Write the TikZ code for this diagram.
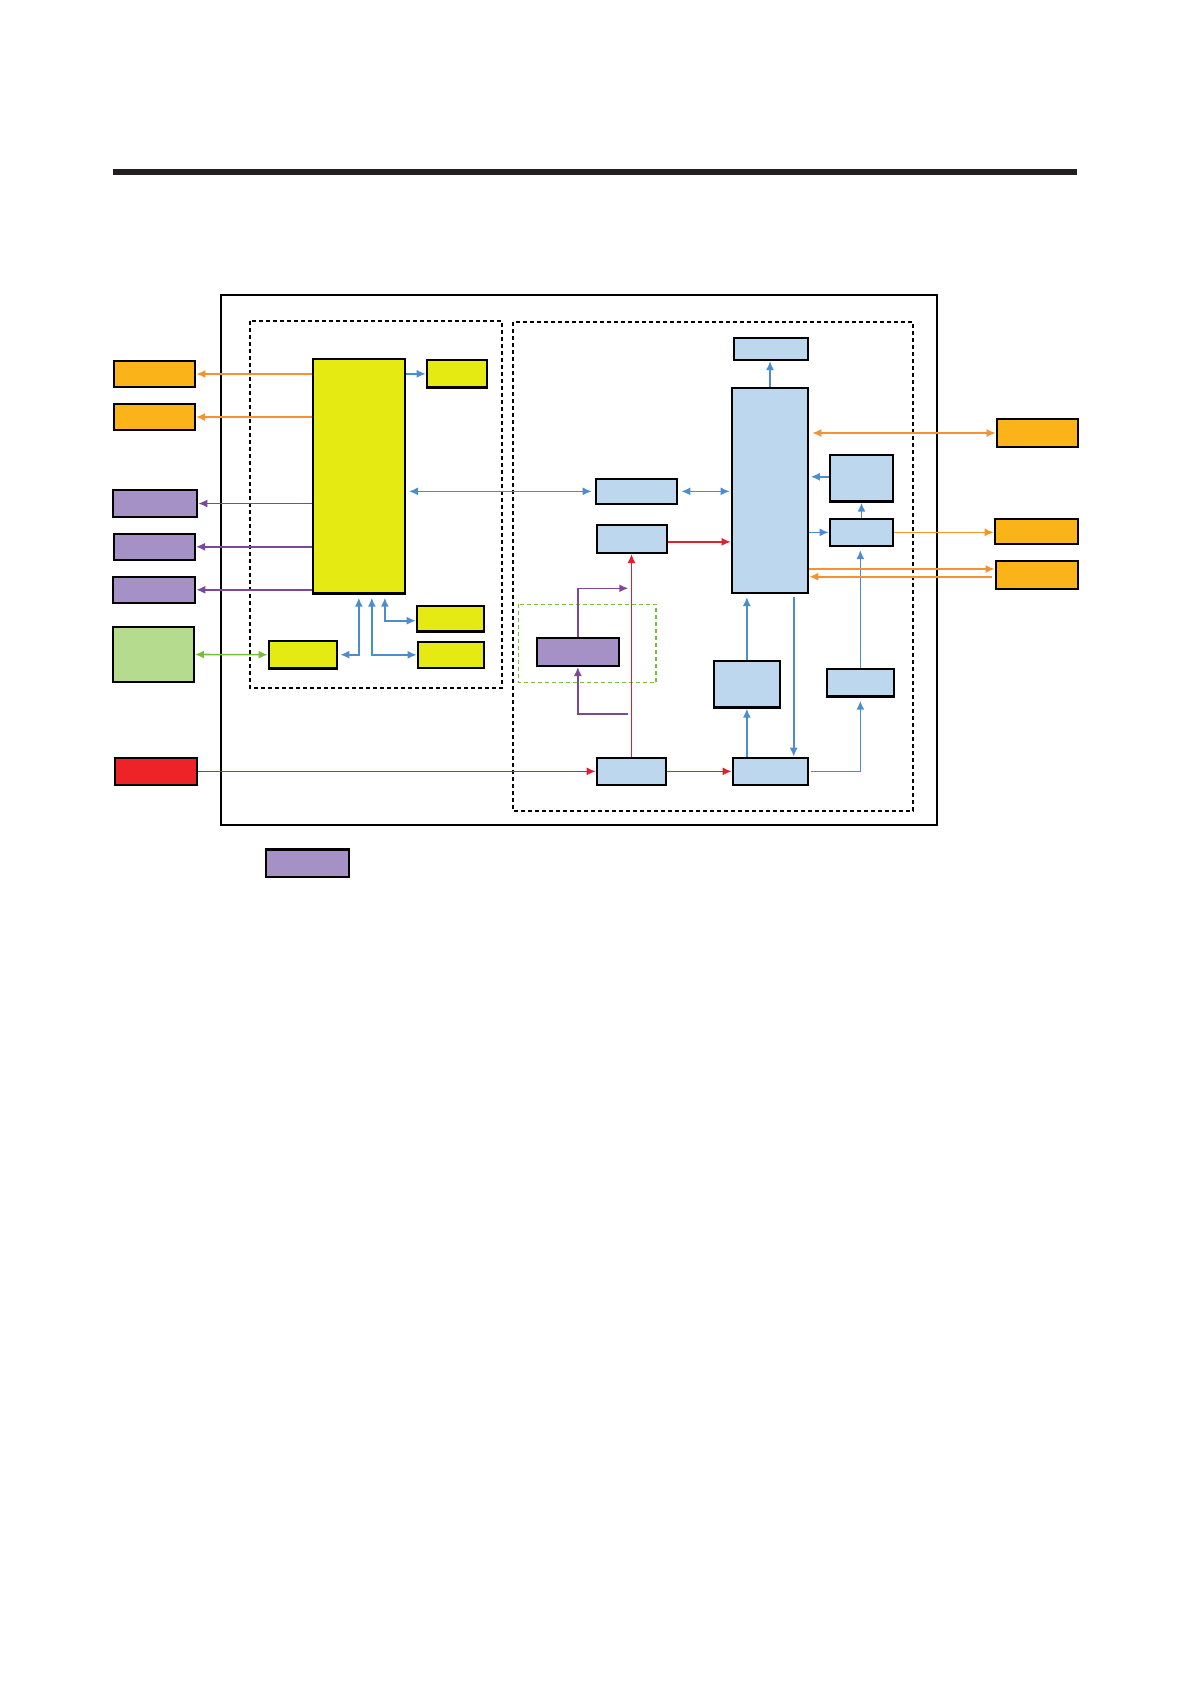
\documentclass[tikz,border=0pt]{standalone}
\usetikzlibrary{arrows.meta,calc}
\definecolor{orfill}{HTML}{FBB31A}
\definecolor{yefill}{HTML}{E5EA12}
\definecolor{blfill}{HTML}{BDD7EE}
\definecolor{pufill}{HTML}{A591C6}
\definecolor{grfill}{HTML}{B5DC8E}
\definecolor{rdfill}{HTML}{EE2328}
\definecolor{orline}{HTML}{F5922F}
\definecolor{blline}{HTML}{4A8ED0}
\definecolor{puline}{HTML}{7B489C}
\definecolor{rdline}{HTML}{E11F2D}
\definecolor{grline}{HTML}{78BE3C}
\definecolor{barcol}{HTML}{231F20}
\tikzset{
  box/.style={draw=black,line width=2.3pt,inner sep=0pt},
  sz/.style 2 args={minimum width=#1pt,minimum height=#2pt},
  orbox/.style={box,fill=orfill},
  yebox/.style={box,fill=yefill},
  blbox/.style={box,fill=blfill},
  pubox/.style={box,fill=pufill},
  grbox/.style={box,fill=grfill},
  rdbox/.style={box,fill=rdfill},
  oline/.style={orline,line width=1.6pt},
  bline/.style={blline,line width=1.6pt},
  pline/.style={puline,line width=1.6pt},
  rline/.style={rdline,line width=1.6pt},
  gline/.style={grline,line width=1.6pt},
  frame/.style={line width=2pt,dash pattern=on 4pt off 3pt}
}

\begin{document}
\begin{tikzpicture}[x=1pt,y=-1pt,>={Latex[length=9pt,width=8pt]}]
  \useasboundingbox (0,0) rectangle (1191,1684);
  % heading rule
  \draw[barcol,line width=6pt] (112.7,172) -- (1077,172);
  % frames
  \draw[line width=2pt] (221,295) rectangle (937,825);
  \draw[frame] (250,321) rectangle (502,688);
  \draw[frame] (513,322) rectangle (913.3,810.7);
  \draw[grline,line width=1.5pt,dash pattern=on 4pt off 3pt] (518.3,604.3) rectangle (656,682.7);

  % left blocks
  \node[orbox,sz={81.3}{25.7}] (orA) at (154.5,374) {};
  \node[orbox,sz={80.7}{25.7}] (orB) at (154.5,417) {};
  \node[pubox,sz={84.3}{26.7}] (puA) at (155,503.5) {};
  \node[pubox,sz={80.7}{26}] (puB) at (154.5,546.8) {};
  \node[pubox,sz={82.3}{26}] (puC) at (154,589.8) {};
  \node[grbox,sz={81}{54.7}] (grA) at (153.3,654.5) {};
  \node[rdbox,sz={82.3}{27}] (rdA) at (156.1,771.35) {};
  % yellow group
  \node[yebox,sz={92}{234.7}] (yBig) at (358.85,476.2) {};
  \node[yebox,sz={60.3}{27.4}] (yTop) at (457,373.85) {};
  \node[yebox,sz={68.3}{27.7}] (yBL) at (303,654.7) {};
  \node[yebox,sz={67.3}{25.7}] (yBR1) at (450.5,618.7) {};
  \node[yebox,sz={66.3}{26}] (yBR2) at (451,654.85) {};
  % blue group
  \node[blbox,sz={74.3}{22}] (bTop) at (771,348.85) {};
  \node[blbox,sz={76.3}{204.7}] (bBig) at (770,490.5) {};
  \node[blbox,sz={63.3}{46.4}] (bRU) at (861.5,478.35) {};
  \node[blbox,sz={63.3}{27}] (bRS) at (861.5,532.35) {};
  \node[blbox,sz={81.3}{25}] (bM1) at (636.5,491.35) {};
  \node[blbox,sz={70.3}{28}] (bM2) at (632,538.85) {};
  \node[blbox,sz={66}{46.7}] (bLM) at (746.85,684.2) {};
  \node[blbox,sz={67}{27.7}] (bLR) at (860.35,682.7) {};
  \node[blbox,sz={69.3}{27}] (bB1) at (631.5,771.35) {};
  \node[blbox,sz={75.3}{27}] (bB2) at (770.5,771.35) {};
  \node[pubox,sz={82}{28}] (puM) at (577.85,651.85) {};
  % right blocks
  \node[orbox,sz={81.3}{28.3}] (orR1) at (1037.5,433) {};
  \node[orbox,sz={83.3}{25}] (orR2) at (1036.5,531.35) {};
  \node[orbox,sz={82.3}{27.7}] (orR3) at (1037,575) {};
  % legend
  \node[pubox,sz={83}{27.4}] (puL) at (307.65,863.15) {};

  % left side links
  \draw[oline,->] (yBig.west |- orA.east) -- (orA.east);
  \draw[oline,->] (yBig.west |- orB.east) -- (orB.east);
  \foreach \p in {puA,puB,puC}
    \draw[pline,->] (yBig.west |- \p.east) -- (\p.east);
  \draw[gline,<->] (grA.east) -- (yBL.west);
  \draw[bline,->] (yBig.east |- yTop.west) -- (yTop.west);
  \draw[bline,<->,shorten <=2pt,shorten >=3pt] (yBL.east) -| (yBig.south);
  \draw[bline,<->,shorten <=3pt] ([xshift=13pt]yBig.south) |- (yBR2.west);
  \draw[bline,<->,shorten <=3pt] ([xshift=26pt]yBig.south) |- ([yshift=-2pt]yBR1.west);
  \draw[bline,<->,shorten <=3pt,shorten >=3pt] (yBig.east |- bM1.west) -- (bM1.west);

  % right side links
  \draw[bline,<->,shorten <=3pt,shorten >=1pt] (bM1.east) -- (bM1.east -| bBig.west);
  \draw[rline,->] ([yshift=-3pt]bM2.east) -- ([yshift=-3pt]bM2.east -| bBig.west);
  \draw[rline,->] (rdA.east) -- (rdA.east -| bB1.west);
  \draw[rline,->] (bB1.north) -- (bB1.north |- bM2.south);
  \draw[rline,->] (bB1.east) -- (bB1.east -| bB2.west);
  \coordinate (pTop) at (628.3,588.3);
  \coordinate (pBot) at (628,714);
  \draw[pline,->] (puM.north) |- (pTop);
  \draw[pline,->] (pBot) -| (puM.south);
  \draw[bline,->] (bLM.south |- bB2.north) -- (bLM.south);
  \draw[bline,->,shorten >=3pt] (bLM.north) -- (bLM.north |- bBig.south);
  \draw[bline,->,shorten <=3pt] ([xshift=23.7pt]bBig.south) -- ([xshift=23.2pt]bB2.north);
  \draw[bline,->,shorten <=2pt,shorten >=3pt] (bB2.east) -| (bLR.south);
  \draw[bline,->,shorten >=3pt] (bLR.north) -- (bLR.north |- bRS.south);
  \draw[bline,->] (bRS.north) -- (bRU.south);
  \draw[bline,->,shorten >=1.5pt] ([yshift=1.6pt]bRU.west) -- ([yshift=1.6pt]bRU.west -| bBig.east);
  \draw[bline,->] (bBig.east |- bRS.west) -- (bRS.west);
  \draw[bline,->] (bBig.north) -- (bBig.north |- bTop.south);
  \draw[oline,->] (bRS.east) -- (bRS.east -| orR2.west);
  \draw[oline,<->,shorten <=3pt] (bBig.east |- orR1.west) -- (orR1.west);
  \draw[oline,->] ([yshift=6pt]orR3.west -| bBig.east) -- ([yshift=6pt]orR3.west);
  \draw[oline,->,shorten <=3pt] ([yshift=-1.7pt]orR3.west) -- ([yshift=-1.7pt]orR3.west -| bBig.east);
\end{tikzpicture}
\end{document}
